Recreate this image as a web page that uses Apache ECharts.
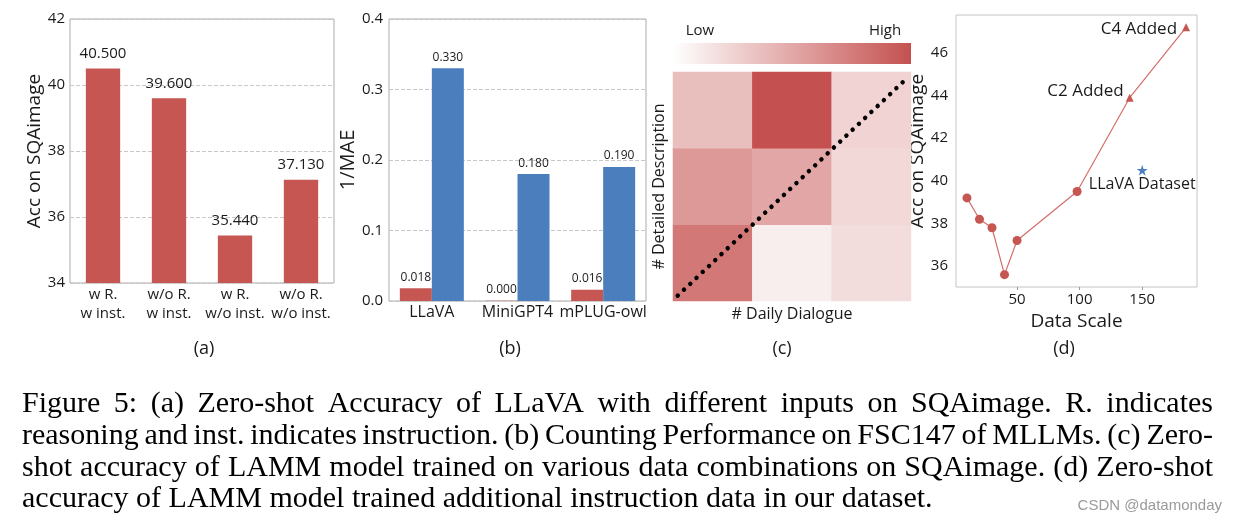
<!DOCTYPE html>
<html><head><meta charset="utf-8">
<script src="https://cdn.jsdelivr.net/npm/echarts@6/dist/echarts.min.js"></script>
<style>html,body{margin:0;padding:0;background:#fff}#chart{width:1235px;height:523px}</style>
</head><body><div id="chart"></div>
<script>
// ---------- DATA ----------
// (a) Zero-shot accuracy of LLaVA with different inputs
const inputCategories = ['w R.\nw inst.', 'w/o R.\nw inst.', 'w R.\nw/o inst.', 'w/o R.\nw/o inst.'];
const inputAcc = [40.5, 39.6, 35.44, 37.13];
// (b) Counting performance (1/MAE)
const countModels = ['LLaVA', 'MiniGPT4', 'mPLUG-owl'];
const countRed = [0.018, 0.0004, 0.016];
const countBlue = [0.33, 0.18, 0.19];
// (c) data combinations heatmap: [dailyDialogueIdx, detailedDescIdx, relative acc]
const dialogueLevels = ['1', '2', '3'];
const descriptionLevels = ['1', '2', '3'];
const heatValues = [[0,0,0.77],[1,0,0.095],[2,0,0.2],[0,1,0.586],[1,1,0.51],[2,1,0.225],[0,2,0.367],[1,2,1.0],[2,2,0.254]];
const heatRange = [0, 1];
const diagonal = [[0.06,0.07],[2.94,2.91]];
// (d) data scale
const baseScale = [10, 20, 30, 40, 50, 98];
const baseAcc = [39.2, 38.2, 37.8, 35.6, 37.2, 39.5];
const addedScale = [140, 185];
const addedAcc = [43.9, 47.2];
const addedNames = ['C2 Added', 'C4 Added'];
const llavaScale = [150];
const llavaAcc = [40.5];
const llavaNames = ['LLaVA Dataset'];
// caption
const captionLines = [
  'Figure 5:  (a) Zero-shot Accuracy of LLaVA with different inputs on SQAimage.  R. indicates',
  'reasoning and inst. indicates instruction. (b) Counting Performance on FSC147 of MLLMs. (c) Zero-',
  'shot accuracy of LAMM model trained on various data combinations on SQAimage. (d) Zero-shot',
  'accuracy of LAMM model trained additional instruction data in our dataset.'
];
const panelTags = ['(a)', '(b)', '(c)', '(d)'];

// ---------- STYLE ----------
const FONT = '"Open Sans", sans-serif';
const TXT = '#1a1a1a';
const RED = '#c55652';
const BLUE = '#4a7ebd';
const FRAME = '#ababab';
const HEAT_LOW = '#ffffff', HEAT_HIGH = '#c4514f';
const STAR = 'path://M50,0 L61.2,34.5 L97.6,34.5 L68.2,55.9 L79.4,90.5 L50,69.1 L20.6,90.5 L31.8,55.9 L2.4,34.5 L38.8,34.5 Z';

const chart = echarts.init(document.getElementById('chart'), null, {renderer: 'canvas'});

// caption layout (justified)
const meas = document.createElement('canvas').getContext('2d');
const capFamily = '"Liberation Serif", "Times New Roman", serif';
function textW(t, font) { meas.font = font; return meas.measureText(t).width; }
let capSize = 26;
capSize = Math.max(23, Math.min(30, capSize * 912 / textW(captionLines[3], capSize + 'px ' + capFamily)));
const capFont = capSize.toFixed(2) + 'px ' + capFamily;
const capLeft = 22, capRight = 1213;
const capY = [404, 436, 468, 499];
const graphics = [];
captionLines.forEach((line, i) => {
  const words = line.split(/\s+/);
  const widths = words.map(w => textW(w, capFont));
  const total = widths.reduce((a, b) => a + b, 0);
  const justify = i < captionLines.length - 1;
  const gap = justify ? (capRight - capLeft - total) / (words.length - 1) : textW(' ', capFont);
  let x = capLeft;
  words.forEach((w, j) => {
    graphics.push({type: 'text', x: x, y: capY[i], silent: true,
      style: {text: w, font: capFont, fill: '#000', verticalAlign: 'middle'}});
    x += widths[j] + gap;
  });
});
const tagX = [204, 510, 782, 1064];
panelTags.forEach((t, i) => graphics.push({type: 'text', x: tagX[i], y: 349, silent: true,
  style: {text: t, font: '18px ' + FONT, fill: TXT, align: 'center', verticalAlign: 'middle'}}));
// colour bar for panel (c)
graphics.push({type: 'rect', shape: {x: 673, y: 43, width: 238, height: 21}, silent: true,
  style: {fill: new echarts.graphic.LinearGradient(0, 0, 1, 0, [{offset: 0, color: HEAT_LOW}, {offset: 1, color: HEAT_HIGH}])}});
graphics.push({type: 'text', x: 700, y: 31, silent: true, style: {text: 'Low', font: '15px ' + FONT, fill: TXT, align: 'center', verticalAlign: 'middle'}});
graphics.push({type: 'text', x: 885, y: 31, silent: true, style: {text: 'High', font: '15px ' + FONT, fill: TXT, align: 'center', verticalAlign: 'middle'}});
graphics.push({type: 'text', x: 1222, y: 506, silent: true, style: {text: 'CSDN @datamonday', font: '15px "Liberation Sans", Arial, sans-serif', fill: '#9a9a9a', align: 'right', verticalAlign: 'middle'}});

// panel (d) points
const dPoints = [];
baseScale.forEach((s, i) => dPoints.push({value: [s, baseAcc[i]], symbol: 'circle', symbolSize: 9}));
const addedLabelStyle = [
  {position: 'left', distance: 2, offset: [0, -7]},
  {position: 'left', distance: 5, offset: [0, 2]}
];
addedScale.forEach((s, i) => dPoints.push({value: [s, addedAcc[i]], name: addedNames[i], symbol: 'triangle', symbolSize: 8,
  label: Object.assign({show: true, formatter: '{b}', fontSize: 17, color: TXT, fontFamily: FONT}, addedLabelStyle[i])}));
const starPoints = llavaScale.map((s, i) => ({value: [s, llavaAcc[i]], name: llavaNames[i]}));

const axisNameStyle = (size) => ({fontSize: size, color: TXT, fontFamily: FONT});

const option = {
  animation: false,
  textStyle: {fontFamily: FONT},
  graphic: graphics,
  grid: [
    {left: 70, top: 19, width: 264, height: 264, show: true, borderColor: FRAME, borderWidth: 1},
    {left: 389, top: 19, width: 257, height: 282, show: true, borderColor: FRAME, borderWidth: 1},
    {left: 673, top: 72, width: 238, height: 229},
    {left: 673, top: 72, width: 238, height: 229},
    {left: 956, top: 15, width: 241, height: 272, show: true, borderColor: '#c4c4c4', borderWidth: 1}
  ],
  xAxis: [
    {gridIndex: 0, type: 'category', data: inputCategories, axisLine: {show: false}, axisTick: {show: false},
     axisLabel: {interval: 0, color: TXT, fontSize: 15, lineHeight: 19, margin: 2, fontFamily: FONT}},
    {gridIndex: 1, type: 'category', data: countModels, axisLine: {show: false}, axisTick: {show: false},
     axisLabel: {interval: 0, color: TXT, fontSize: 16, margin: 3, fontFamily: FONT}},
    {gridIndex: 2, type: 'category', data: dialogueLevels, axisLine: {show: false}, axisTick: {show: false},
     axisLabel: {show: false}, splitLine: {show: false},
     name: '# Daily Dialogue', nameLocation: 'middle', nameGap: 5, nameTextStyle: axisNameStyle(16)},
    {gridIndex: 3, type: 'value', min: 0, max: 3, show: false},
    {gridIndex: 4, type: 'value', min: 1.25, max: 193.75, splitNumber: 4, minInterval: 50, maxInterval: 50,
     axisLine: {show: false}, axisTick: {show: true, length: 3, lineStyle: {color: '#999'}}, splitLine: {show: false},
     axisLabel: {showMinLabel: false, showMaxLabel: false, fontSize: 15, color: TXT, margin: 5, fontFamily: FONT},
     name: 'Data Scale', nameLocation: 'middle', nameGap: 19, nameTextStyle: axisNameStyle(19)}
  ],
  yAxis: [
    {gridIndex: 0, type: 'value', min: 34, max: 42, interval: 2, axisLine: {show: false}, axisTick: {show: false},
     splitLine: {show: true, lineStyle: {type: 'dashed', color: '#c8c8c8'}},
     axisLabel: {fontSize: 15, color: TXT, margin: 5, fontFamily: FONT},
     name: 'Acc on SQAimage', nameLocation: 'middle', nameGap: 24, nameTextStyle: axisNameStyle(19)},
    {gridIndex: 1, type: 'value', min: 0, max: 0.4, interval: 0.1, axisLine: {show: false}, axisTick: {show: false},
     splitLine: {show: true, lineStyle: {type: 'dashed', color: '#c8c8c8'}},
     axisLabel: {fontSize: 15, color: TXT, margin: 6, fontFamily: FONT, formatter: v => v.toFixed(1)},
     name: '1/MAE', nameLocation: 'middle', nameGap: 28, nameTextStyle: axisNameStyle(20)},
    {gridIndex: 2, type: 'category', data: descriptionLevels, axisLine: {show: false}, axisTick: {show: false},
     axisLabel: {show: false}, splitLine: {show: false},
     name: '# Detailed Description', nameLocation: 'middle', nameGap: 6, nameTextStyle: axisNameStyle(16)},
    {gridIndex: 3, type: 'value', min: 0, max: 3, show: false},
    {gridIndex: 4, type: 'value', min: 35.02, max: 47.78, splitNumber: 6, minInterval: 2, maxInterval: 2,
     axisLine: {show: false}, axisTick: {show: false}, splitLine: {show: false},
     axisLabel: {showMinLabel: false, showMaxLabel: false, fontSize: 15, color: TXT, margin: 8, fontFamily: FONT},
     name: 'Acc on SQAimage', nameLocation: 'middle', nameGap: 21, nameTextStyle: axisNameStyle(19)}
  ],
  visualMap: {
    type: 'continuous', show: false, seriesIndex: 3, min: heatRange[0], max: heatRange[1],
    inRange: {color: [HEAT_LOW, HEAT_HIGH]}
  },
  series: [
    {type: 'bar', xAxisIndex: 0, yAxisIndex: 0, data: inputAcc, barWidth: '52%', itemStyle: {color: RED},
     label: {show: true, position: 'top', distance: 7, fontSize: 15, color: TXT, fontFamily: FONT, formatter: p => p.value.toFixed(3)}},
    {type: 'bar', xAxisIndex: 1, yAxisIndex: 1, data: countRed, barWidth: 32, barGap: '0%', itemStyle: {color: RED}, z: 2,
     label: {show: true, position: 'top', distance: 5, fontSize: 12, color: TXT, fontFamily: FONT, formatter: p => p.value.toFixed(3)}},
    {type: 'bar', xAxisIndex: 1, yAxisIndex: 1, data: countBlue, barWidth: 32, barGap: '0%', itemStyle: {color: BLUE}, z: 3,
     label: {show: true, position: 'top', distance: 5, fontSize: 12, color: TXT, fontFamily: FONT, formatter: p => p.value.toFixed(3)}},
    {type: 'heatmap', xAxisIndex: 2, yAxisIndex: 2, data: heatValues, emphasis: {disabled: true}},
    {type: 'line', xAxisIndex: 3, yAxisIndex: 3, data: diagonal, symbol: 'none', silent: true, z: 5,
     lineStyle: {color: '#000', width: 4.5, type: [0.01, 8.6], cap: 'round'}},
    {type: 'line', xAxisIndex: 4, yAxisIndex: 4, data: dPoints, lineStyle: {color: '#d46e6a', width: 1.2},
     itemStyle: {color: RED}, emphasis: {disabled: true}},
    {type: 'scatter', xAxisIndex: 4, yAxisIndex: 4, data: starPoints, symbol: STAR, symbolSize: 11,
     itemStyle: {color: BLUE, opacity: 1}, emphasis: {disabled: true},
     label: {show: true, position: 'bottom', distance: 1, formatter: '{b}', fontSize: 16, color: TXT, opacity: 1, fontFamily: FONT}}
  ]
};
chart.setOption(option);
</script></body></html>
